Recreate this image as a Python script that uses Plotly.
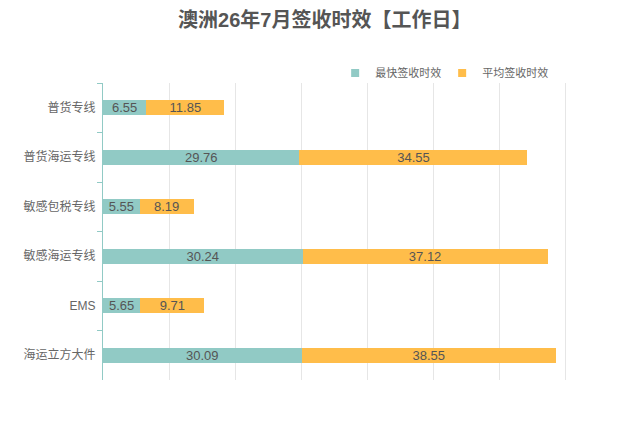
import plotly.graph_objects as go

categories = ["普货专线", "普货海运专线", "敏感包税专线", "敏感海运专线", "EMS", "海运立方大件"]
fastest = [6.55, 29.76, 5.55, 30.24, 5.65, 30.09]
average = [11.85, 34.55, 8.19, 37.12, 9.71, 38.55]
series_names = ["最快签收时效", "平均签收时效"]
title_text = "澳洲26年7月签收时效【工作日】"

teal = "#91CAC5"
orange = "#FFBD4A"
font_family = "Liberation Sans, Noto Sans CJK SC, sans-serif"

fig = go.Figure()
for name, vals, color in [(series_names[0], fastest, teal), (series_names[1], average, orange)]:
    fig.add_trace(go.Bar(
        name=name, y=categories, x=vals, orientation="h",
        marker=dict(color=color, line=dict(width=0)),
        width=0.31,
        text=[f"{v:.2f}" for v in vals],
        textposition="inside", insidetextanchor="middle",
        constraintext="none",
        textfont=dict(color="#555555", size=13, family=font_family),
        hoverinfo="x+y+name",
        legendgroup=name, showlegend=False,
    ))
    # small square legend markers
    fig.add_trace(go.Scatter(
        name=name, x=[None], y=[None], mode="markers",
        marker=dict(symbol="square", size=8, color=color),
        legendgroup=name, showlegend=True, hoverinfo="skip",
    ))

# page body adds 8px margin, so the figure is sized to fit the window
fig.update_layout(
    barmode="stack",
    width=626, height=406,
    margin=dict(l=95, r=3, t=75, b=34, autoexpand=False),
    paper_bgcolor="white", plot_bgcolor="white",
    font=dict(family=font_family, color="#666666", size=12),
    title=dict(text="<b>" + title_text + "</b>", x=0.506, xanchor="center",
               y=1 - 12 / 406, yanchor="middle",
               font=dict(size=20, color="#555555", family=font_family)),
    legend=dict(orientation="h", x=0.845, xanchor="right", y=1.034, yanchor="middle",
                font=dict(size=11, color="#666666"), itemwidth=30,
                entrywidth=62, entrywidthmode="pixels",
                bgcolor="rgba(0,0,0,0)", traceorder="normal"),
    showlegend=True,
)

fig.update_xaxes(range=[0, 80], dtick=10, showticklabels=False, showgrid=True,
                 gridcolor="#E6E6E6", gridwidth=1, zeroline=False, showline=False, ticks="",
                 automargin=False)
fig.update_yaxes(autorange="reversed", showline=True, linecolor=teal, linewidth=1,
                 ticks="outside", tickson="boundaries", ticklen=5, tickcolor=teal,
                 ticklabelstandoff=4,
                 showgrid=False, tickfont=dict(size=12, color="#666666"),
                 automargin=False)

fig.write_html("out.html")
